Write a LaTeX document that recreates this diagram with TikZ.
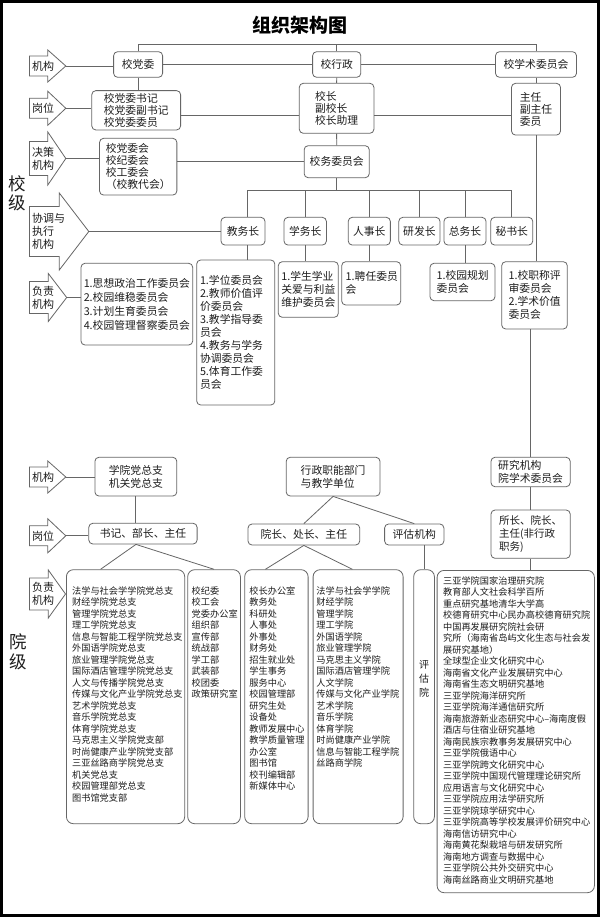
\documentclass[tikz,border=0pt]{standalone}
\usepackage{fontspec}
\setmainfont{Noto Sans CJK SC}
\usetikzlibrary{calc}
\definecolor{lc}{HTML}{666666}
\definecolor{tc}{HTML}{1E1E1E}
\newcommand\myfs[2]{\fontsize{#1pt}{#2pt}\selectfont}
\newcommand\lfs{\myfs{9.2}{11.5}}
\tikzset{
  conn/.style={draw=lc, line width=0.8pt},
  bx/.style={draw=lc, line width=0.8pt, rounded corners=4pt, fill=white, inner sep=0pt, text=tc, font=\myfs{10.8}{12}},
  lbx/.style={draw=lc, line width=0.8pt, rounded corners=7pt, fill=white, inner ysep=0pt, text=tc},
  arrowshape/.style={draw=lc, line width=0.8pt, fill=white},
  arrowtext/.style={anchor=west, align=left, inner sep=0pt, text=tc, font=\myfs{11}{13}}
}
\newcommand\blockarrow[8]{%
  \draw[arrowshape] (#2,#5-#6) -- (#3,#5-#6) -- (#3,#5-#7) -- (#4,#5) -- (#3,#5+#7) -- (#3,#5+#6) -- (#2,#5+#6) -- cycle;
  \coordinate (#1) at (#4,#5);
  \node[arrowtext] (#1t) at (#2+2.5,#5) {#8};
}
\begin{document}
\begin{tikzpicture}[x=1pt,y=-1pt]
\fill[white] (0,0) rectangle (600,917);
\useasboundingbox (0,0) rectangle (600,917);
\draw[line width=3pt, black] (1.5,1.5) rectangle (598.5,915.5);

\node[font=\bfseries\myfs{19}{22}, text=black, inner sep=0pt] (title) at (300,25) {组织架构图};
\node[font=\myfs{17.5}{18.5}, align=center, text=tc, inner sep=0pt] (xj) at (17.6,193.3) {校\\级};
\node[font=\myfs{17.5}{19.5}, align=center, text=tc, inner sep=0pt] (yj) at (18.2,651.7) {院\\级};

% arrows
\blockarrow{a1}{29.5}{47.8}{65.8}{66}{10}{16}{机构}
\blockarrow{a2}{29.5}{47.8}{65.8}{108.3}{10}{17}{岗位}
\blockarrow{a3}{29.5}{47.8}{65.8}{158.5}{17}{26.5}{决策\\机构}
\blockarrow{a4}{29.5}{59.3}{88.8}{231.5}{25}{38.5}{协调与\\执行\\机构}
\blockarrow{a5}{29.5}{48.3}{66.7}{297.5}{16}{24}{负责\\机构}
\blockarrow{a6}{29.5}{47.8}{65.8}{477}{10}{16}{机构}
\blockarrow{a7}{29.5}{47.8}{65.8}{535.8}{10}{17}{岗位}
\blockarrow{a8}{29.5}{48.3}{65.5}{594}{16}{24}{负责\\机构}

% top row
\node[bx, minimum width=49pt, minimum height=25.6pt] (xdw) at (138.1,64.5) {校党委};
\node[bx, minimum width=48.2pt, minimum height=25.6pt] (xxz) at (336.7,64.5) {校行政};
\node[bx, minimum width=81pt, minimum height=25.6pt] (xxs) at (536,64.5) {校学术委员会};
\coordinate (tp) at (336.7,44.3);
\draw[conn] (xdw.north) |- (tp) -| (xxs.north);
\draw[conn] (xxz.north) -- (tp);
\draw[conn] (a1) -- (a1 -| xdw.west);
\draw[conn] (xdw.east) -- (xxz.west);
\draw[conn] (xxz.east) -- (xxs.west);

% posts
\node[bx, align=left, minimum width=88.8pt, minimum height=39.3pt] (sjs) at (136.2,110.3) {校党委书记\\校党委副书记\\校党委委员};
\node[bx, align=left, minimum width=74.6pt, minimum height=50pt] (xz) at (336.6,108.3) {校长\\副校长\\校长助理};
\node[bx, align=left, minimum width=49pt, minimum height=51.7pt] (zr) at (536,109.2) {主任\\副主任\\委员};
\draw[conn] (xdw.south) -- (xdw.south |- sjs.north);
\draw[conn] (xxz.south) -- (xz.north);
\draw[conn] (xxs.south) -- (zr.north);
\draw[conn] (a2) -- (a2 -| sjs.west);
\coordinate (p1) at ([yshift=-4.7pt]sjs.east);
\coordinate (p2) at ([yshift=-6.7pt]xz.east);
\draw[conn] (p1) -- (p1 -| xz.west);
\draw[conn] (p2) -- (p2 -| zr.west);

% decision
\node[bx, align=left, minimum width=77.3pt, minimum height=56.7pt] (dwh) at (138.2,166.7) {校党委会\\校纪委会\\校工委会\\（校教代会）};
\node[bx, minimum width=65.1pt, minimum height=32pt] (xwh) at (336.7,161.7) {校务委员会};
\draw[conn] (xz.south) -- (xwh.north);
\draw[conn] (a3) -- (a3 -| dwh.west);
\draw[conn] (dwh.east |- xwh.west) -- (xwh.west);

% coordination
\node[bx, minimum width=44pt, minimum height=27.7pt] (jwz) at (243,231.2) {教务长};
\node[bx, minimum width=42.4pt, minimum height=27.7pt] (xwz) at (305.2,231.2) {学务长};
\node[bx, minimum width=42.1pt, minimum height=27.7pt] (rsz) at (369.3,231.2) {人事长};
\node[bx, minimum width=41.2pt, minimum height=27.7pt] (yfz) at (419.4,231.2) {研发长};
\node[bx, minimum width=42.1pt, minimum height=27.7pt] (zwz) at (465,231.2) {总务长};
\node[bx, minimum width=42.1pt, minimum height=27.7pt] (msz) at (511.7,231.2) {秘书长};
\coordinate (br) at (336.7,190.7);
\coordinate (jt) at ([xshift=4pt]jwz.north);
\coordinate (jb) at ([xshift=4pt]jwz.south);
\draw[conn] (xwh.south) -- (br);
\draw[conn] (jt |- br) -- (msz.north |- br);
\draw[conn] (jt |- br) -- (jt);
\foreach \n in {xwz,rsz,yfz,zwz,msz} \draw[conn] (\n.north |- br) -- (\n.north);
\draw[conn] (a4) -- (a4 -| jwz.west);

% responsible
\node[bx, align=left, font=\myfs{10.8}{14}, minimum width=111.7pt, minimum height=81.7pt] (szzz) at (136.85,304.15) {1.思想政治工作委员会\\2.校园维稳委员会\\3.计划生育委员会\\4.校园管理督察委员会};
\node[bx, align=left, font=\myfs{10.8}{13}, text width=71.5pt, inner xsep=3.3pt, minimum height=145pt] (xwwyh) at (235.75,332.5) {1.学位委员会\\2.教师价值评\\价委员会\\3.教学指导委\\员会\\4.教务与学务\\协调委员会\\5.体育工作委\\员会};
\node[bx, align=left, font=\myfs{10.8}{13}, minimum width=60pt, minimum height=55.6pt] (xsxy) at (308.3,289.5) {1.学生学业\\关爱与利益\\维护委员会};
\node[bx, align=left, font=\myfs{10.8}{13}, text width=51pt, inner xsep=4pt, minimum height=43.3pt] (prwy) at (371.2,283.35) {1.聘任委员\\会};
\node[bx, align=left, font=\myfs{10.8}{13}, text width=52pt, inner xsep=6.5pt, minimum height=37.4pt] (xygh) at (462.5,282) {1.校园规划\\委员会};
\node[bx, align=left, font=\myfs{10.8}{13}, text width=52pt, inner xsep=6.8pt, minimum height=67.3pt] (xzcp) at (534.5,295.35) {1.校职称评\\审委员会\\2.学术价值\\委员会};
\draw[conn] (a5) -- (a5 -| szzz.west);
\draw[conn] (jb) -- (jb |- xwwyh.north);
\draw[conn] (xwz.south) -- (xwz.south |- xsxy.north);
\draw[conn] (rsz.south) -- (rsz.south |- prwy.north);
\draw[conn] (zwz.south) -- (zwz.south |- xygh.north);
\draw[conn] (zr.south) -- (zr.south |- xzcp.north);

% lower: institutions
\node[bx, align=center, font=\myfs{10.8}{13}, minimum width=81.9pt, minimum height=38.7pt] (xydzz) at (135.85,476.65) {学院党总支\\机关党总支};
\node[bx, align=left, font=\myfs{10.8}{13}, minimum width=93.8pt, minimum height=38.7pt] (xzzn) at (333.1,476.65) {行政职能部门\\与教学单位};
\node[bx, align=left, font=\myfs{10.8}{13.5}, minimum width=79.2pt, minimum height=29.4pt] (yjjg) at (530.6,472) {研究机构\\院学术委员会};
\draw[conn] (yjjg.north |- xzcp.south) -- (yjjg.north);

% lower: posts
\node[bx, minimum width=108.3pt, minimum height=20.7pt] (sjbz) at (142.95,533.65) {书记、部长、主任};
\node[bx, minimum width=111.7pt, minimum height=21pt] (yzcz) at (303.85,534.5) {院长、处长、主任};
\node[bx, minimum width=59.3pt, minimum height=21pt] (pgjg) at (414.25,534.5) {评估机构};
\node[bx, align=left, font=\myfs{10.5}{13.3}, minimum width=79.2pt, minimum height=48.3pt] (szyz) at (530.6,534.15) {所长、院长、\\主任(非行政\\职务)};
\draw[conn] (a6) -- (a6 -| xydzz.west);
\draw[conn] (xydzz.south) -- (xydzz.south |- sjbz.north);
\draw[conn] (a7) -- (a7 -| sjbz.west);
\draw[conn] (xzzn.south) -- (yzcz.north);
\draw[conn] (xzzn.south) -- (pgjg.north);
\draw[conn] (yjjg.south) -- (szyz.north);

% lower: lists
\node[lbx, anchor=north west, inner xsep=5.7pt] (dzz) at (66,569.3) {\parbox[t][254pt][t]{106.9pt}{\lfs\vspace*{16.8pt}法学与社会学学院党总支\\财经学院党总支\\管理学院党总支\\理工学院党总支\\信息与智能工程学院党总支\\外国语学院党总支\\旅业管理学院党总支\\国际酒店管理学院党总支\\人文与传播学院党总支\\传媒与文化产业学院党总支\\艺术学院党总支\\音乐学院党总支\\体育学院党总支\\马克思主义学院党支部\\时尚健康产业学院党支部\\三亚丝路商学院党总支\\机关党总支\\校园管理部党总支\\图书馆党支部}};
\node[lbx, anchor=north west, inner xsep=4pt] (jwy) at (187.3,569.3) {\parbox[t][254pt][t]{44.7pt}{\lfs\vspace*{16.8pt}校纪委\\校工会\\党委办公室\\组织部\\宣传部\\统战部\\学工部\\武装部\\校团委\\政策研究室}};
\node[lbx, anchor=north west, inner xsep=4.7pt] (xzbg) at (244.3,569.3) {\parbox[t][254pt][t]{54pt}{\lfs\vspace*{16.8pt}校长办公室\\教务处\\科研处\\人事处\\外事处\\财务处\\招生就业处\\学生事务\\服务中心\\校园管理部\\研究生处\\设备处\\教师发展中心\\教学质量管理\\办公室\\图书馆\\校刊编辑部\\新媒体中心}};
\node[lbx, anchor=north west, inner xsep=3.3pt] (fyx) at (312.7,569.3) {\parbox[t][254pt][t]{83.4pt}{\lfs\vspace*{16.8pt}法学与社会学学院\\财经学院\\管理学院\\理工学院\\外国语学院\\旅业管理学院\\马克思主义学院\\国际酒店管理学院\\人文学院\\传媒与文化产业学院\\艺术学院\\音乐学院\\体育学院\\时尚健康产业学院\\信息与智能工程学院\\丝路商学院}};
\node[lbx, anchor=north west, inner xsep=0pt] (pgy) at (413.3,569.3) {\parbox[t][254pt][t]{20.7pt}{\centering\myfs{10}{13.8}\vspace*{90.7pt}评\\估\\院}};
\node[lbx, anchor=north west, inner xsep=6pt] (yjy) at (436.7,570) {\parbox[t][322.3pt][t]{145.3pt}{\lfs\vspace*{6.1pt}三亚学院国家治理研究院\\教育部人文社会科学百所\\重点研究基地清华大学高\\校德育研究中心民办高校德育研究院\\中国再发展研究院社会研\\究所（海南省岛屿文化生态与社会发\\展研究基地）\\全球型企业文化研究中心\\海南省文化产业发展研究中心\\海南省生态文明研究基地\\三亚学院海洋研究所\\三亚学院海洋通信研究所\\海南旅游新业态研究中心--海南度假\\酒店与住宿业研究基地\\海南民族宗教事务发展研究中心\\三亚学院俄语中心\\三亚学院跨文化研究中心\\三亚学院中国现代管理理论研究所\\应用语言与文化研究中心\\三亚学院应用法学研究所\\三亚学院琼学研究中心\\三亚学院高等学校发展评价研究中心\\海南信访研究中心\\海南黄花梨栽培与研发研究所\\海南地方调查与数据中心\\三亚学院公共外交研究中心\\海南丝路商业文明研究基地}};

\coordinate (sb) at ([xshift=-7pt]sjbz.south);
\draw[conn] (sb) -- ([xshift=-25pt]dzz.north);
\draw[conn] (sb) -- (jwy.north);
\draw[conn] (yzcz.south) -- ([xshift=-11pt]xzbg.north);
\draw[conn] (yzcz.south) -- ([xshift=-5.7pt]fyx.north);
\draw[conn] (pgy.north |- pgjg.south) -- (pgy.north);
\draw[conn] (szyz.south) -- (szyz.south |- yjy.north);
\end{tikzpicture}
\end{document}
